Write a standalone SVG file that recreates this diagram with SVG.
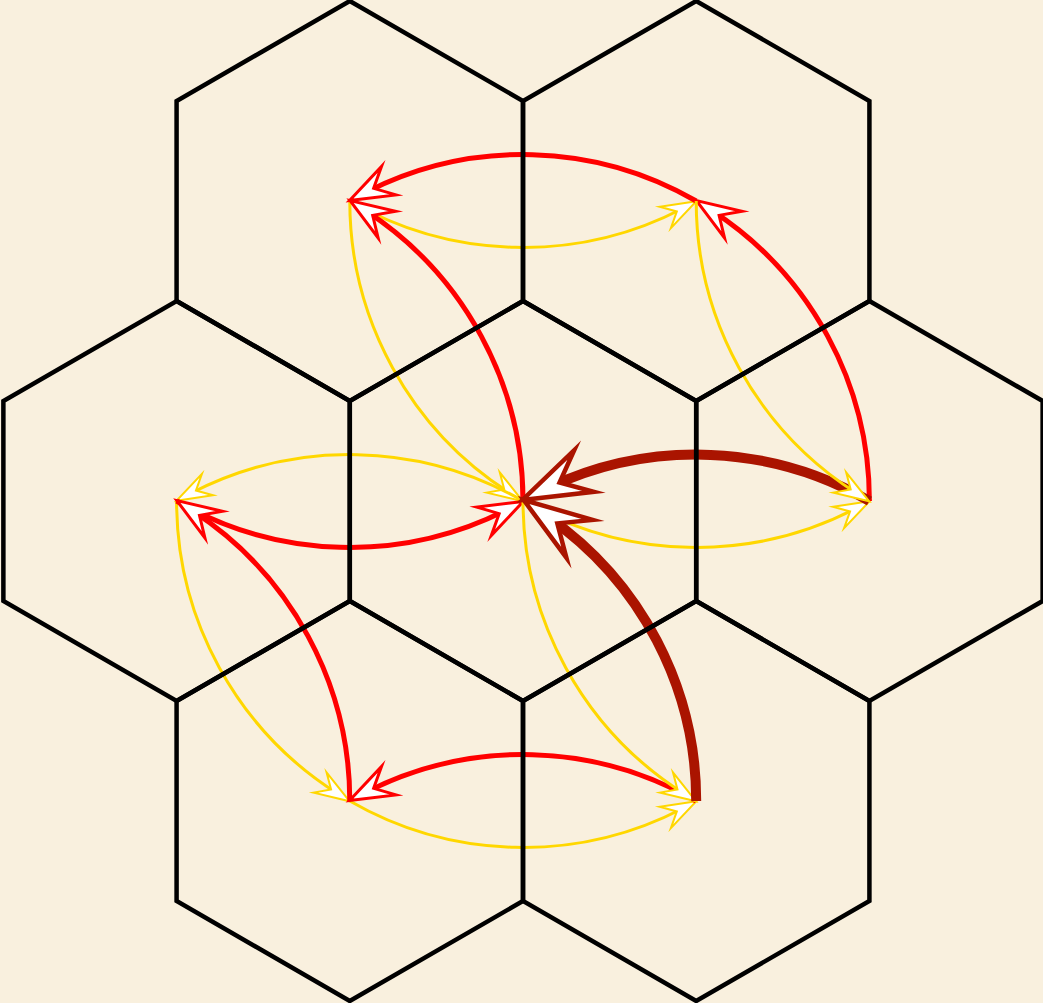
<svg xmlns="http://www.w3.org/2000/svg" xmlns:xlink="http://www.w3.org/1999/xlink" width="1043" height="1003" viewBox="0 0 1043 1003">
<style>
.hex{fill:none;stroke:#000;stroke-width:4.5;stroke-linejoin:miter}
.y{fill:none;stroke:#ffd700;stroke-width:3;marker-end:url(#ah-y)}
.r{fill:none;stroke:#ff0000;stroke-width:5;marker-end:url(#ah-r)}
.d{fill:none;stroke:#aa1400;stroke-width:10;marker-end:url(#ah-d)}
.head{fill:#fff;stroke-linejoin:miter;stroke-miterlimit:10}
</style>
<defs>
<polygon id="hexshape" points="0,-200 173.21,-100 173.21,100 0,200 -173.21,100 -173.21,-100"/>
<marker id="ah-y" markerUnits="userSpaceOnUse" orient="auto" refX="-15" refY="0" markerWidth="1" markerHeight="1" overflow="visible">
<path class="head" d="M0,0 L-35,-12 L-22,0 L-35,12 Z" stroke="#ffd700" stroke-width="2"/>
</marker>
<marker id="ah-r" markerUnits="userSpaceOnUse" orient="auto" refX="-19" refY="0" markerWidth="1" markerHeight="1" overflow="visible">
<path class="head" d="M0,0 L-44,-16 L-27,0 L-44,16 Z" stroke="#ff0000" stroke-width="3"/>
</marker>
<marker id="ah-d" markerUnits="userSpaceOnUse" orient="auto" refX="-29" refY="0" markerWidth="1" markerHeight="1" overflow="visible">
<path class="head" d="M0,0 L-68,-23 L-41,0 L-68,23 Z" stroke="#aa1400" stroke-width="4.5"/>
</marker>
</defs>
<rect x="0" y="0" width="1043" height="1003" fill="#f9f0de"/>
<g id="connectors">
<path class="y" d="M349.79,201 A346.41,346.41 0 0 0 683.06,208.22"/>
<path class="y" d="M349.79,201 A346.41,346.41 0 0 0 510.18,493.22"/>
<path class="y" d="M523,501 A346.41,346.41 0 0 0 189.73,493.78"/>
<path class="y" d="M523,501 A346.41,346.41 0 0 0 856.27,508.22"/>
<path class="y" d="M176.59,501 A346.41,346.41 0 0 0 336.97,793.22"/>
<path class="y" d="M349.79,801 A346.41,346.41 0 0 0 683.06,808.22"/>
<path class="r" d="M696.21,201 A346.41,346.41 0 0 0 366.5,191.95"/>
<path class="r" d="M523,501 A346.41,346.41 0 0 0 365.98,210.95"/>
<path class="r" d="M869.41,501 A346.41,346.41 0 0 0 712.39,210.95"/>
<path class="r" d="M176.59,501 A346.41,346.41 0 0 0 506.29,510.05"/>
<path class="r" d="M349.79,801 A346.41,346.41 0 0 0 192.77,510.95"/>
<path class="r" d="M696.21,801 A346.41,346.41 0 0 0 366.5,791.95"/>
<path class="y" d="M523,501 A346.41,346.41 0 0 0 683.38,793.22"/>
<path class="d" d="M869.41,501 A346.41,346.41 0 0 0 548.7,487.56"/>
<path class="d" d="M696.21,801 A346.41,346.41 0 0 0 547.48,516.53"/>
<path class="y" d="M696.21,201 A346.41,346.41 0 0 0 856.59,493.22"/>
</g>
<g id="hex-center"><use class="hex" xlink:href="#hexshape" x="523" y="501"/></g>
<g id="hex-top-left"><use class="hex" xlink:href="#hexshape" x="349.79" y="201"/></g>
<g id="hex-top-right"><use class="hex" xlink:href="#hexshape" x="696.21" y="201"/></g>
<g id="hex-left"><use class="hex" xlink:href="#hexshape" x="176.59" y="501"/></g>
<g id="hex-right"><use class="hex" xlink:href="#hexshape" x="869.41" y="501"/></g>
<g id="hex-bottom-left"><use class="hex" xlink:href="#hexshape" x="349.79" y="801"/></g>
<g id="hex-bottom-right"><use class="hex" xlink:href="#hexshape" x="696.21" y="801"/></g>
</svg>
